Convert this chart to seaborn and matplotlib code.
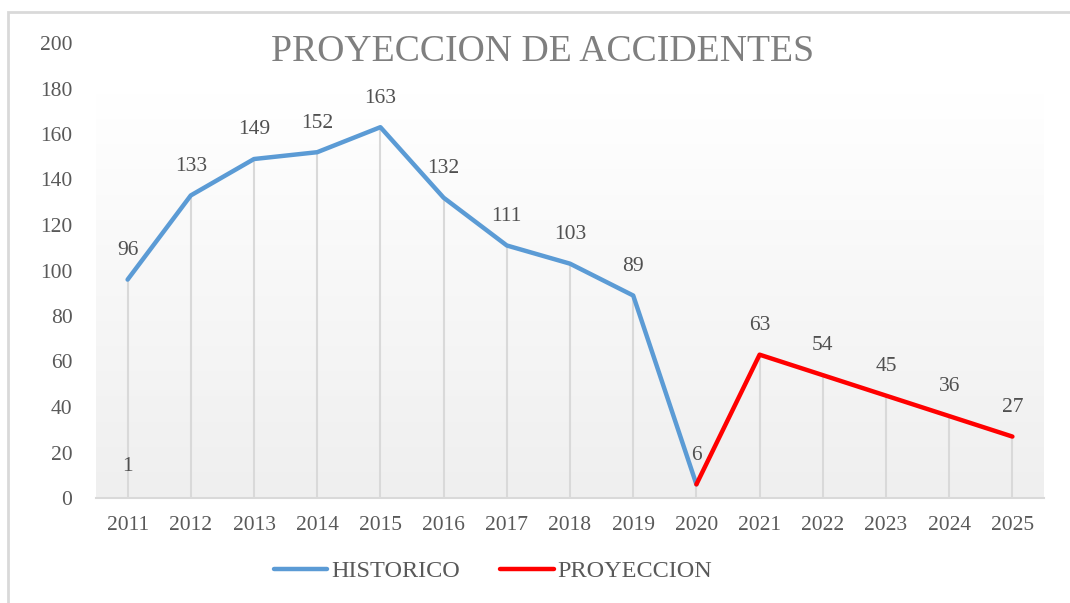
import matplotlib
matplotlib.use("Agg")
import matplotlib.pyplot as plt
import seaborn as sns
import numpy as np
import pandas as pd
from matplotlib.lines import Line2D
from matplotlib.patches import Rectangle

# ---- data ----
hist_years = [2011, 2012, 2013, 2014, 2015, 2016, 2017, 2018, 2019, 2020]
hist_values = [96, 133, 149, 152, 163, 132, 111, 103, 89, 6]
proj_years = [2020, 2021, 2022, 2023, 2024, 2025]
proj_values = [6, 63, 54, 45, 36, 27]
extra_years = [2011]
extra_values = [1]
all_years = list(range(2011, 2026))
title = "PROYECCION DE ACCIDENTES"
legend_labels = ["HISTORICO", "PROYECCION"]

sns.set_theme(style="white")
plt.rcParams['font.family'] = ['Liberation Serif', 'DejaVu Serif']

fig = plt.figure(figsize=(10.70, 6.03), dpi=100)
fig.patch.set_facecolor("white")
ax = fig.add_axes([96/1070, 1-498/603, 948/1070, 455/603])
ax.set_facecolor("none")

# outer frame (left and top visible)
fig.patches.append(Rectangle((8/1070, -0.1), 1.2, 1-12/603+0.1, transform=fig.transFigure,
                             fill=False, edgecolor="#d9d9d9", lw=2, zorder=0))

# gradient plot background
grad = np.linspace(0, 1, 256).reshape(-1, 1)
cmap = matplotlib.colors.LinearSegmentedColormap.from_list("g", ["#efefef", "#ffffff"])
ax.imshow(grad, extent=[2010.5, 2025.5, 0, 178], origin="lower", aspect="auto",
          cmap=cmap, zorder=0)

# drop lines
all_vals = hist_values[:-1] + proj_values
ax.vlines(all_years, 0, all_vals, color="#d9d9d9", lw=1.5, zorder=1)

df_h = pd.DataFrame({"year": hist_years, "value": hist_values})
df_p = pd.DataFrame({"year": proj_years, "value": proj_values})
sns.lineplot(data=df_h, x="year", y="value", ax=ax, color="#5b9bd5", lw=3.2, zorder=3)
sns.lineplot(data=df_p, x="year", y="value", ax=ax, color="#ff0000", lw=3.2, zorder=4)

# labels
lab_kw = dict(textcoords="offset points", xytext=(0, 21), ha="center", va="center",
              fontsize=15.5, color="#505050", zorder=5)
for x, y in zip(hist_years, hist_values):
    ax.annotate(str(y), (x, y), **lab_kw)
for x, y in zip(proj_years[1:], proj_values[1:]):
    ax.annotate(str(y), (x, y), **lab_kw)
for x, y in zip(extra_years, extra_values):
    ax.annotate(str(y), (x, y), **lab_kw)

ax.set_xlim(2010.5, 2025.5)
ax.set_ylim(0, 200)
ax.set_xticks(all_years)
ax.set_xticklabels([str(y) for y in all_years])
ax.set_yticks(range(0, 201, 20))
ax.tick_params(axis="x", length=0, pad=13, labelsize=15.5, labelcolor="#595959")
ax.tick_params(axis="y", length=0, pad=17, labelsize=15.5, labelcolor="#595959")
ax.set_xlabel("")
ax.set_ylabel("")
for s in ["left", "right", "top"]:
    ax.spines[s].set_visible(False)
ax.spines["bottom"].set_color("#d9d9d9")
ax.spines["bottom"].set_linewidth(1.5)
ax.spines["bottom"].set_zorder(2)

fig.text(543/1070, 1-52/603, title, ha="center", va="center", fontsize=27.2, color="#7f7f7f")

handles = [Line2D([0], [0], color="#5b9bd5", lw=3.2),
           Line2D([0], [0], color="#ff0000", lw=3.2)]
leg = fig.legend(handles, legend_labels, loc="center", bbox_to_anchor=(493/1070, 1-571/603),
                 ncol=2, frameon=False, fontsize=17.5, handlelength=2.2, handletextpad=0.17,
                 columnspacing=1.65)
for t in leg.get_texts():
    t.set_color("#595959")

fig.savefig("out.png", dpi=100)
